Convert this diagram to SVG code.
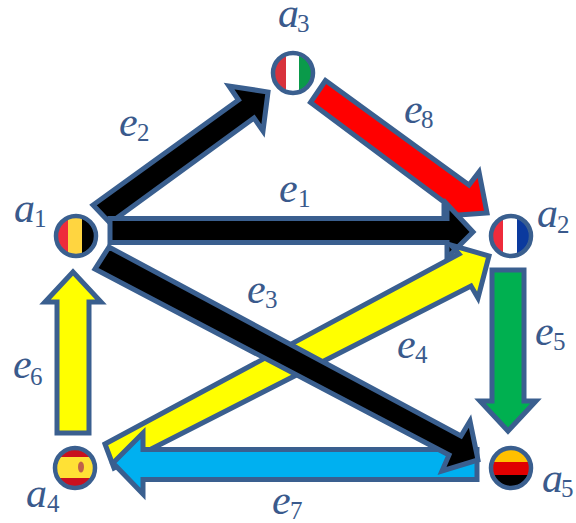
<svg xmlns="http://www.w3.org/2000/svg" width="576" height="523" viewBox="0 0 576 523">
<style>
.a{stroke:#3a5f8f;stroke-width:5;stroke-linejoin:miter;stroke-miterlimit:10}
.ring{fill:none;stroke:#3a5f8f;stroke-width:4.5}
text{font-family:"Liberation Serif","DejaVu Serif",serif;font-size:42px;font-style:italic;fill:#3a5a8c}
tspan{font-size:25px;font-style:normal}
</style>
<defs>
<clipPath id="c1"><circle cx="76" cy="236" r="18.5"/></clipPath>
<clipPath id="c2"><circle cx="511" cy="236" r="18.5"/></clipPath>
<clipPath id="c3"><circle cx="293" cy="73" r="18.5"/></clipPath>
<clipPath id="c4"><circle cx="75" cy="468" r="18.5"/></clipPath>
<clipPath id="c5"><circle cx="511" cy="468" r="18.5"/></clipPath>
</defs>
<g id="connectors">
<polygon id="e6" class="a" fill="#ffff00" points="57,433 89,433 89,302 101,302 73,272 45,302 57,302"/>
<polygon id="e5" class="a" fill="#00b050" points="492,270 524,270 524,401 536,401 508,431 480,401 492,401"/>
<polygon id="e8" class="a" fill="#ff0000" points="325.500,80.500 310.500,102.500 444,202 444,216 487,213 479,172 469,185"/>
<polygon id="e2" class="a" fill="#000000" points="93,205 110,223 254,118 263,131 268,92 229,86 238.500,100"/>
<polygon id="e1" class="a" fill="#000000" points="110,218.500 110,242.500 447,242.500 447,258 473,232 447,204 447,218.500"/>
<polygon id="e4" class="a" fill="#ffff00" points="105,444 114,468 471,286 478,298 489,256 451,245 459,254"/>
<polygon id="e7" class="a" fill="#00b0f0" points="477,449.500 477,479.500 143,479.500 143,494 113,463 143,433 143,449.500"/>
<polygon id="e3" class="a" fill="#000000" points="109,247 95,269 449,455 442,471 478,460 470,421 461,436"/>
<text x="279" y="202">e<tspan x="298" y="207">1</tspan></text>
<text x="119" y="136">e<tspan x="137" y="141">2</tspan></text>
<text x="247" y="303">e<tspan x="265" y="308">3</tspan></text>
<text x="397" y="358">e<tspan x="415" y="363">4</tspan></text>
<text x="535" y="345">e<tspan x="553" y="350">5</tspan></text>
<text x="13" y="378">e<tspan x="30" y="385">6</tspan></text>
<text x="272" y="514">e<tspan x="290" y="519">7</tspan></text>
<text x="404" y="123">e<tspan x="421" y="128">8</tspan></text>
</g>
<g id="a1">
<g clip-path="url(#c1)"><rect x="56" y="216" width="12" height="40" fill="#ee2b3b"/><rect x="68" y="216" width="14" height="40" fill="#ffd540"/><rect x="82" y="216" width="14" height="40" fill="#000"/></g>
<circle class="ring" cx="76" cy="236" r="20"/>
<text x="14" y="222">a<tspan x="34" y="227">1</tspan></text>
</g>
<g id="a2">
<g clip-path="url(#c2)"><rect x="491" y="216" width="12" height="40" fill="#ee2b3b"/><rect x="503" y="216" width="14" height="40" fill="#fff"/><rect x="517" y="216" width="14" height="40" fill="#0b3a9e"/></g>
<circle class="ring" cx="511" cy="236" r="20"/>
<text x="537" y="227">a<tspan x="557" y="233">2</tspan></text>
</g>
<g id="a3">
<g clip-path="url(#c3)"><rect x="273" y="53" width="13" height="40" fill="#d8323c"/><rect x="286" y="53" width="13" height="40" fill="#fff"/><rect x="299" y="53" width="14" height="40" fill="#0a9a4a"/></g>
<circle class="ring" cx="293" cy="73" r="20"/>
<text x="278" y="27">a<tspan x="297" y="32">3</tspan></text>
</g>
<g id="a4">
<g clip-path="url(#c4)"><rect x="55" y="448" width="40" height="40" fill="#c8101e"/><rect x="55" y="457" width="40" height="21" fill="#ffe135"/><ellipse cx="81" cy="467" rx="3" ry="5.500" fill="#c0604a"/></g>
<circle class="ring" cx="75" cy="468" r="20"/>
<text x="26" y="507">a<tspan x="47" y="512">4</tspan></text>
</g>
<g id="a5">
<g clip-path="url(#c5)"><rect x="491" y="448" width="40" height="14" fill="#ffc000"/><rect x="491" y="462" width="40" height="13" fill="#e00000"/><rect x="491" y="475" width="40" height="14" fill="#000"/></g>
<circle class="ring" cx="511" cy="468" r="20"/>
<text x="542" y="492">a<tspan x="561" y="497">5</tspan></text>
</g>
</svg>
